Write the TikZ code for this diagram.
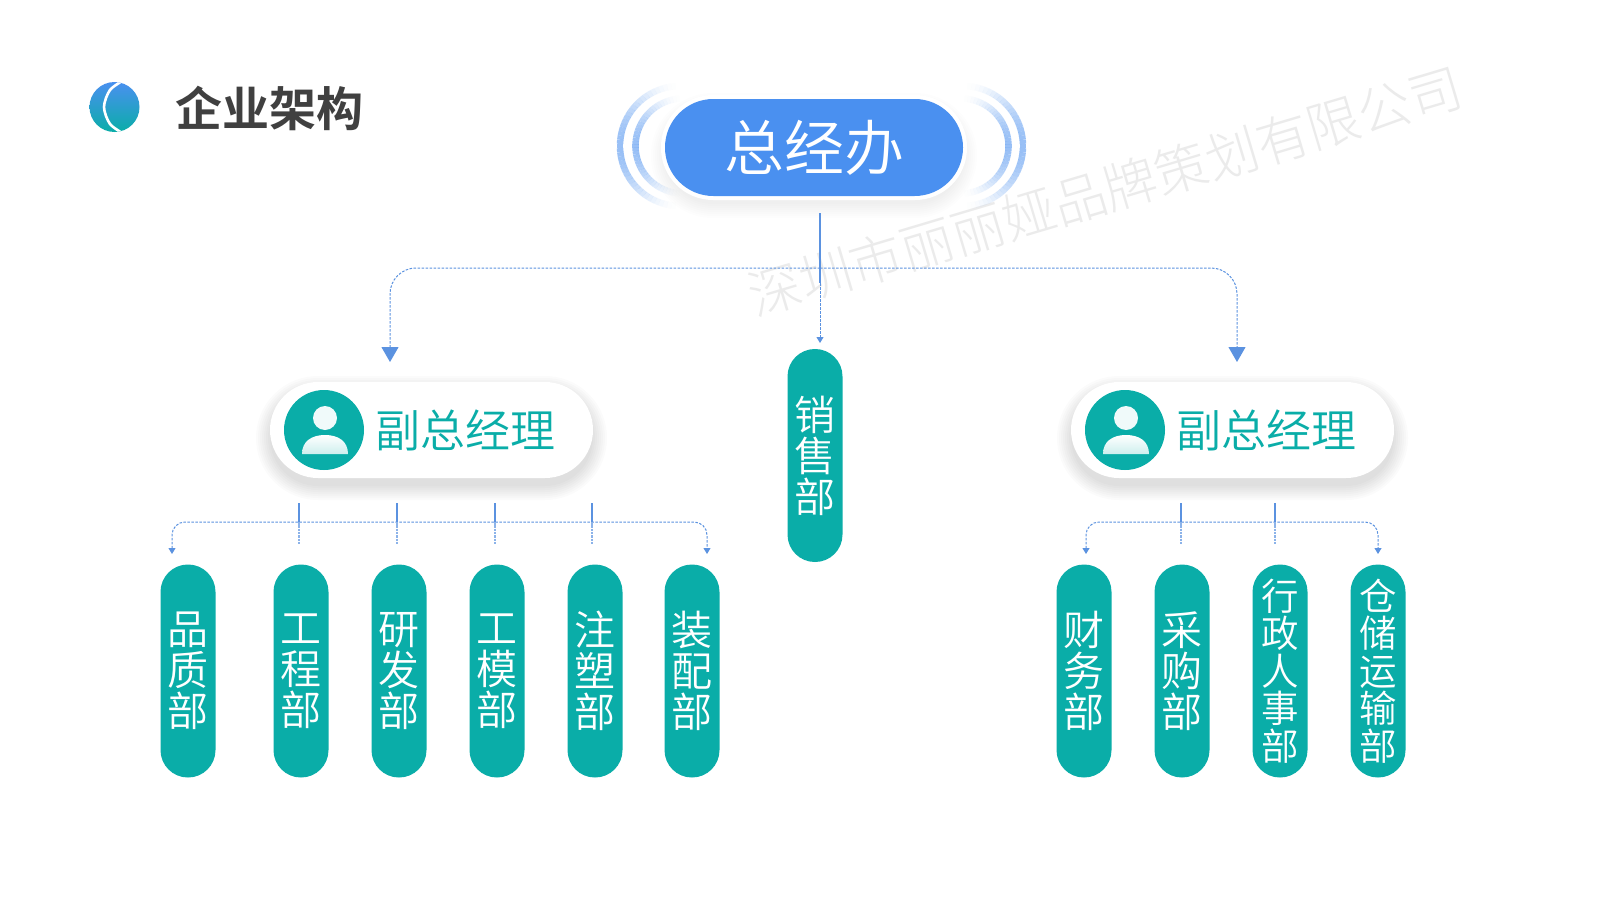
\documentclass[tikz,border=0pt]{standalone}
\usepackage{fontspec}
\setmainfont{Noto Sans CJK SC}
\newfontfamily\cjkbold{Noto Sans CJK SC Bold}
\newfontfamily\cjklight{Noto Sans CJK SC Light}
\newfontfamily\cjkmid{Noto Sans CJK SC DemiLight}
\usetikzlibrary{arrows.meta,calc}
\definecolor{teal0}{HTML}{0AADA8}
\definecolor{blue0}{HTML}{4A90F0}
\definecolor{line0}{HTML}{5B92E0}
\definecolor{title0}{HTML}{404040}
\definecolor{mark0}{HTML}{EBEBEB}
\newcommand{\softshadow}[6]{% x1,y1,x2,y2,radius,opacity
  \foreach \g in {14,12,...,0}{
    \fill[black,opacity=#6,rounded corners={(#5+\g)*1pt}]
      ($(#1,#2)+(-\g,-\g+8)$) rectangle ($(#3,#4)+(\g,\g+8)$);
  }}
\newcommand{\ringarc}[4]{% cx,cy,radius,start angle (fades out at both ends of a half turn)
  \foreach \s in {0,...,44}{
    \pgfmathsetmacro{\aa}{#4+\s*4}
    \pgfmathsetmacro{\bb}{\aa+4}
    \pgfmathsetmacro{\oo}{0.7*sin(180*(\s+0.5)/45)^2}
    \draw[blue0!80,line width=6.5pt,opacity=\oo]
      ({#1+#3*cos(\aa)},{#2-#3*sin(\aa)}) -- ({#1+#3*cos(\bb)},{#2-#3*sin(\bb)});
  }}
\tikzset{
  x=1pt,y=-1pt,
  deptpill/.style={fill=teal0,text=white,minimum width=55pt,rounded corners=27.4pt,
    align=center,inner sep=0pt,font=\cjkmid\fontsize{#1}{#1}\selectfont},
  trunk/.style={line0,line width=1.3pt},
  branch/.style={line0,line width=1pt,dash pattern=on 2.5pt off 1.5pt},
  bigtip/.style={-{Triangle[width=17pt,length=15pt]}},
  smalltip/.style={{Triangle[width=7pt,length=6pt]}-{Triangle[width=7pt,length=6pt]}},
  vphead/.style={text=teal0,font=\cjkmid\fontsize{45}{45}\selectfont,inner sep=0pt},
  vpbox/.style={fill=white,minimum width=323pt,minimum height=96pt,rounded corners=48pt,inner sep=0pt},
}
\begin{document}
\begin{tikzpicture}
\useasboundingbox (0,0) rectangle (1600,899);
\fill[white] (0,0) rectangle (1600,899);

% watermark
\node[text=mark0,rotate=16.6,inner sep=0pt,font=\cjklight\fontsize{53}{53}\selectfont] (mark) at (1105,191) {深圳市丽丽娅品牌策划有限公司};

% logo
\begin{scope}
  \clip (114.5,107) circle (25);
  \shade[top color=blue0,bottom color=teal0] (89,82) rectangle (140,132);
  \draw[white,line width=2.6pt] plot[smooth] coordinates {(124,80) (110,90) (104,107) (110,124) (124,134)};
\end{scope}
\node[text=title0,font=\cjkbold\fontsize{47}{47}\selectfont,inner sep=0pt] (title) at (269,108) {企业架构};

% rings of the top box
\ringarc{680}{146}{60}{90}
\ringarc{683}{146}{47.5}{90}
\ringarc{963}{146}{60}{-90}
\ringarc{961}{146}{47.5}{-90}

% top box
\softshadow{665}{99}{963}{196}{48}{0.007}
\fill[white,rounded corners=52pt] (661,95) rectangle (967,200);
\node[fill=blue0,text=white,minimum width=298pt,minimum height=97pt,rounded corners=48.4pt,inner sep=0pt,
  font=\cjkmid\fontsize{60}{60}\selectfont] (top) at (814,147.5) {总经办};

% vice managers
\softshadow{270}{382}{593}{478}{48}{0.016}
\softshadow{1071}{382}{1394}{478}{48}{0.016}
\node[vpbox] (vpL) at (431.5,430) {};
\node[vpbox] (vpR) at (1232.5,430) {};
\foreach \n/\dx in {L/0,R/801}{
  \begin{scope}[xshift=\dx pt]
    \fill[teal0] (324,430) circle (40);
    \fill[teal0!6] (325,418) circle (12);
    \shade[top color=white,bottom color=teal0!20]
      (302,454) .. controls (302,441) and (312,435) .. (325,435)
      .. controls (338,435) and (348,441) .. (348,454) -- cycle;
    \node[vphead,anchor=west] at (375,430) {副总经理};
  \end{scope}
}

% departments
\foreach \nm/\cx/\cy/\h/\ls/\txt in {
  sales/815/455.5/213/41/{销\\售\\部},
  d1/188/671/213/41/{品\\质\\部},
  d2/301/671/213/41/{工\\程\\部},
  d3/399/671/213/41/{研\\发\\部},
  d4/497/671/213/41/{工\\模\\部},
  d5/595/671/213/41/{注\\塑\\部},
  d6/692/671/213/41/{装\\配\\部},
  e1/1084/671/213/41/{财\\务\\部},
  e2/1182/671/213/41/{采\\购\\部},
  e3/1280/671/213/37.5/{行\\政\\人\\事\\部},
  e4/1378/671/213/37.5/{仓\\储\\运\\输\\部}}{
  \node[deptpill=\ls,minimum height=\h pt] (\nm) at (\cx,\cy) {\txt};
}

% free ends
\coordinate (topstem) at (820,213);
\coordinate (stemend) at (820,283);
\coordinate (hub) at (820,268);
\coordinate (tipL) at (390,362);
\coordinate (tipR) at (1237,362);
\coordinate (tipS) at (820,343);
\coordinate (barL) at (172,522);
\coordinate (barR) at (707,522);
\coordinate (barE) at (1086,522);
\coordinate (barF) at (1378,522);

% upper connectors
\draw[trunk] (topstem) -- (stemend);
\draw[branch,bigtip,rounded corners=26pt] (hub) -| (tipL);
\draw[branch,bigtip,rounded corners=26pt] (hub) -| (tipR);
\draw[branch,-{Triangle[width=7pt,length=6pt]}] (stemend) -- (tipS);

% lower connectors
\draw[branch,smalltip,rounded corners=13pt] (172,554) -- (barL) -- (barR) -- (707,554);
\draw[branch,smalltip,rounded corners=13pt] (1086,554) -- (barE) -- (barF) -- (1378,554);
\foreach \x in {299,397,495,592,1181,1275}{
  \draw[trunk] (\x,503) -- (\x,522);
  \draw[line0!70,line width=1.2pt,dash pattern=on 2.5pt off 0.8pt] (\x,522) -- (\x,544);
}
\end{tikzpicture}
\end{document}
